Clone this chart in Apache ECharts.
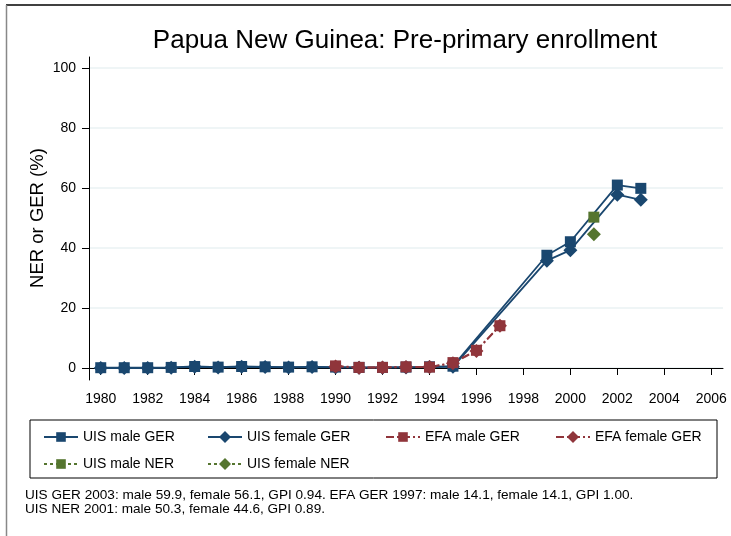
<!DOCTYPE html>
<html><head><meta charset="utf-8">
<script src="https://cdn.jsdelivr.net/npm/echarts@6/dist/echarts.min.js"></script>
<style>html,body{margin:0;padding:0;background:#fff}#c{width:731px;height:536px}</style>
</head><body><div id="c"></div>
<script>
const xTickLabels = [1980,1982,1984,1986,1988,1990,1992,1994,1996,1998,2000,2002,2004,2006];
const yTickLabels = [0,20,40,60,80,100];

const uisYears = [1980,1981,1982,1983,1984,1985,1986,1987,1988,1989,1990,1991,1992,1993,1994,1995,1999,2000,2002,2003];
const uisMaleGER = [0.1,0.1,0.1,0.2,0.5,0.3,0.5,0.4,0.3,0.4,0.3,0.2,0.2,0.3,0.4,0.6,37.6,42.1,61.0,59.9];
const uisFemaleGER = [0.0,0.0,0.0,0.1,0.4,0.2,0.4,0.3,0.2,0.3,0.2,0.1,0.1,0.2,0.3,0.4,35.8,39.3,57.8,56.1];

const efaYears = [1990,1991,1992,1993,1994,1995,1996,1997];
const efaMaleGER = [0.7,0.2,0.2,0.4,0.3,1.8,5.9,14.1];
const efaFemaleGER = [0.5,0.1,0.2,0.3,0.3,1.6,5.7,14.1];

const nerYears = [2001];
const uisMaleNER = [50.3];
const uisFemaleNER = [44.6];

const seriesNames = ['UIS male GER','UIS female GER','EFA male GER','EFA female GER','UIS male NER','UIS female NER'];
const footLines = ['UIS GER 2003: male 59.9, female 56.1, GPI 0.94. EFA GER 1997: male 14.1, female 14.1, GPI 1.00.',
                   'UIS NER 2001: male 50.3, female 44.6, GPI 0.89.'];

const BLUE = '#1a476f', RED = '#90353b', GREEN = '#55752f';
const FONT = "'Liberation Sans', Arial, sans-serif";
const pairs = (xs, ys) => xs.map((x, i) => [x, ys[i]]);

function mk(name, data, color, symbol, size, lineType) {
  return {
    name, type: 'line', data, symbol, symbolSize: size,
    itemStyle: { color, borderWidth: 0 },
    lineStyle: { color, width: 1.8, type: lineType },
    emphasis: { disabled: true }, animation: false
  };
}

const legendPos = [[38,425],[202,425],[380,425],[550,425],[38,452],[202,452]];
const legendIconH = [12,15,12,15,12,15];
const legends = seriesNames.map((n, i) => ({
  data: [n], left: legendPos[i][0], top: legendPos[i][1], itemWidth: 34, itemHeight: legendIconH[i], itemGap: 10,
  textStyle: { fontFamily: FONT, fontSize: 14, color: '#000' }, selectedMode: false
}));

const chart = echarts.init(document.getElementById('c'), null, { renderer: 'canvas' });
chart.setOption({
  backgroundColor: '#fff',
  animation: false,
  title: [{
    text: 'Papua New Guinea: Pre-primary enrollment', left: 400, top: 23, textAlign: 'center',
    textStyle: { fontFamily: FONT, fontSize: 26, fontWeight: 'normal', color: '#000' }
  }],
  legend: legends,
  grid: { left: 89, right: 8, top: 57, bottom: 156, containLabel: false },
  xAxis: {
    type: 'value', min: 1979.5, max: 2006.5,
    axisLine: { show: true, lineStyle: { color: '#000', width: 1 } },
    axisTick: { show: true, length: 7, customValues: xTickLabels, lineStyle: { color: '#000' } },
    axisLabel: { customValues: xTickLabels, formatter: v => String(v), fontFamily: FONT, fontSize: 14, color: '#000', margin: 12 },
    splitLine: { show: false }
  },
  yAxis: {
    type: 'value', min: -4, max: 103.7,
    axisLine: { show: true, lineStyle: { color: '#000', width: 1 } },
    axisTick: { show: true, length: 7, customValues: yTickLabels, lineStyle: { color: '#000' } },
    axisLabel: { customValues: yTickLabels, formatter: v => String(v), fontFamily: FONT, fontSize: 14, color: '#000', margin: 13 },
    splitLine: { show: true, lineStyle: { color: '#eaf2f3', width: 1.5 } }
  },
  series: [
    mk(seriesNames[0], pairs(uisYears, uisMaleGER), BLUE, 'rect', 11, 'solid'),
    mk(seriesNames[1], pairs(uisYears, uisFemaleGER), BLUE, 'diamond', 14, 'solid'),
    mk(seriesNames[2], pairs(efaYears, efaMaleGER), RED, 'rect', 11, [8,3,2,3]),
    mk(seriesNames[3], pairs(efaYears, efaFemaleGER), RED, 'diamond', 14, [8,3,2,3]),
    mk(seriesNames[4], pairs(nerYears, uisMaleNER), GREEN, 'rect', 11, [3,3]),
    mk(seriesNames[5], pairs(nerYears, uisFemaleNER), GREEN, 'diamond', 14, [3,3])
  ],
  graphic: [
    { type: 'rect', shape: { x: 30, y: 420, width: 687, height: 58 }, style: { fill: 'none', stroke: '#000', lineWidth: 1 }, silent: true },
    { type: 'line', shape: { x1: 6, y1: 5, x2: 731, y2: 5 }, style: { stroke: '#000', lineWidth: 1.5 }, silent: true },
    { type: 'line', shape: { x1: 6.5, y1: 5, x2: 6.5, y2: 536 }, style: { stroke: '#888', lineWidth: 1.5 }, silent: true },
    { type: 'text', x: 38, y: 218, rotation: Math.PI / 2, silent: true,
      style: { text: 'NER or GER (%)', fontFamily: FONT, fontSize: 18.5, fill: '#000', align: 'center', verticalAlign: 'middle' } },
    { type: 'text', left: 25, top: 488, style: { text: footLines.join('\n'), fontFamily: FONT, fontSize: 13.6, lineHeight: 14, fill: '#000' }, silent: true }
  ]
});
</script></body></html>
